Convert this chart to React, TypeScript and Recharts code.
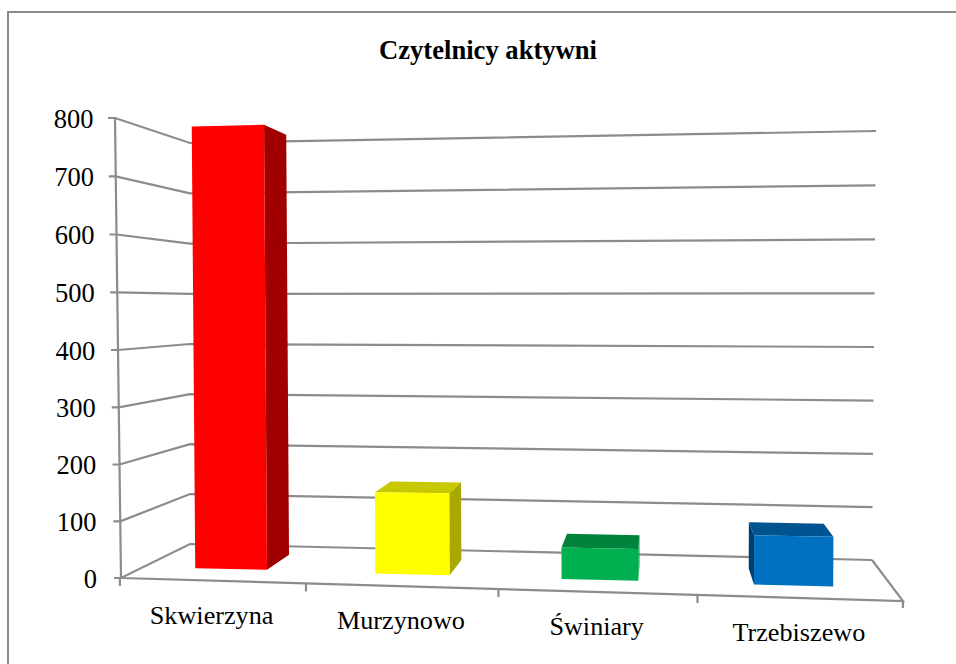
import { BarChart, Bar, XAxis, YAxis } from "recharts";

const categories = ["Skwierzyna", "Murzynowo", "Świniary", "Trzebiszewo"];
const readers = [771, 142, 55, 86];
const valueTicks = [0, 100, 200, 300, 400, 500, 600, 700, 800];

const FRONT_COLORS = ["#ff0000", "#ffff00", "#00b050", "#0070c0"];
const TOP_COLORS = ["#c00000", "#c8c800", "#00843c", "#005490"];
const SIDE_COLORS = ["#a00000", "#a8a800", "#00a048", "#00406e"];
const LINE = "#8c8c8c";
const FONT = '"Liberation Serif", "Times New Roman", serif';

const PLOT_TOP = 118;
const PLOT_BOTTOM = 578;
const PLOT_LEFT = 137.25;
const PLOT_RIGHT = 887.25;
const BAND = (PLOT_RIGHT - PLOT_LEFT) / categories.length;

// vanishing point of the fake 3D view
const VX = 660;
const VY = 303;
const DEPTH = 0.056; // bar front -> bar back
const FRONT = 1.044; // bar plane -> front edge of floor

// band positions get wider to the right
const warpX = (x: number) => x + (x - 231) * (x - 793.5) * 8.8e-5;
const floorY = (fx: number) => PLOT_BOTTOM + (fx - 121) * 0.0294;
const toFloorX = (x: number) => VX + (warpX(x) - VX) * FRONT;
const barBottom = (x: number) => VY + (floorY(VX + (x - VX) * FRONT) - VY) / FRONT;
const toBack = ([x, y]: number[]) => [VX + (x - VX) * (1 - DEPTH), VY + (y - VY) * (1 - DEPTH)];
const pts = (list: number[][]) => list.map((p) => p.join(",")).join(" ");
const bow = (t: number, amount: number) => amount * 4 * t * (1 - t);

function ValueTick({ y, payload }: any) {
  const t = (PLOT_BOTTOM - y) / (PLOT_BOTTOM - PLOT_TOP);
  const nextT = t - 1 / (valueTicks.length - 1);
  const step = (PLOT_BOTTOM - PLOT_TOP) / (valueTicks.length - 1);
  const axisX = 121 - t * 6;
  const wallY = y + bow(t, 2);
  const backLeft = [190, 544 - t * 401 + bow(t, 0.5)];
  const backRight = [872 + t * 4, 560 - t * 429 + bow(t, 1.5)];
  const line = { stroke: LINE, strokeWidth: 2.2, fill: "none" };
  return (
    <g>
      <polyline points={pts([[axisX - 7, wallY], [axisX, wallY], backLeft, backRight])} {...line} />
      {payload.value > 0 && (
        <line x1={axisX} y1={wallY} x2={121 - nextT * 6} y2={y + step + bow(nextT, 2)} {...line} />
      )}
      {payload.value === 0 && (
        <polyline points={pts([[121, PLOT_BOTTOM], [903, floorY(903)], backRight])} {...line} />
      )}
      <text x={axisX - 24 + t * 2.5} y={wallY + 9.5} textAnchor="end" fontFamily={FONT} fontSize={26.5} fill="#000">
        {payload.value}
      </text>
    </g>
  );
}

function CategoryTick({ x, payload, index }: any) {
  const fx = toFloorX(x);
  const edge = toFloorX(x - BAND / 2);
  const lastEdge = toFloorX(x + BAND / 2);
  const isLast = index === categories.length - 1;
  return (
    <g>
      <line x1={edge} y1={floorY(edge)} x2={edge} y2={floorY(edge) + 8} stroke={LINE} strokeWidth={2.2} />
      {isLast && (
        <line x1={lastEdge} y1={floorY(lastEdge)} x2={lastEdge} y2={floorY(lastEdge) + 7} stroke={LINE} strokeWidth={2.2} />
      )}
      <text x={fx - 0.5} y={floorY(fx) + 43} textAnchor="middle" fontFamily={FONT} fontSize={26.2} fill="#000">
        {payload.value}
      </text>
    </g>
  );
}

function Bar3D({ x, y, width, height, index }: any) {
  const left = warpX(x);
  const right = warpX(x + width);
  const mid = (left + right) / 2;
  const bottomY = barBottom(mid);
  const topY = bottomY - height;
  const topSlope = (topY - 350) * 1e-4;
  const bottomSlope = (bottomY - 350) * 1e-4;
  const lean = (px: number) => (px - VX) * height * 1.7e-5;
  const half = (right - left) / 2;

  const tl = [left + lean(left), topY - half * topSlope];
  const tr = [right + lean(right), topY + half * topSlope];
  const bl = [left, bottomY - half * bottomSlope];
  const br = [right, bottomY + half * bottomSlope];

  return (
    <g>
      {topY > VY && <polygon points={pts([tl, tr, toBack(tr), toBack(tl)])} fill={TOP_COLORS[index]} />}
      {right < VX && <polygon points={pts([tr, br, toBack(br), toBack(tr)])} fill={SIDE_COLORS[index]} />}
      {left > VX && <polygon points={pts([tl, bl, toBack(bl), toBack(tl)])} fill={SIDE_COLORS[index]} />}
      <polygon points={pts([tl, tr, br, bl])} fill={FRONT_COLORS[index]} />
    </g>
  );
}

const chartData = categories.map((name, i) => ({ name, readers: readers[i] }));
const layer = { position: "absolute", left: 0, top: 0 } as const;
const plotMargin = { top: PLOT_TOP, right: 956 - PLOT_RIGHT, bottom: 0, left: PLOT_LEFT - 100 };

export default function App() {
  return (
    <div style={{ position: "absolute", left: 0, top: 0, width: 956, height: 664, overflow: "hidden", background: "#fff" }}>
      <div
        style={{
          position: "absolute",
          left: 7,
          top: 11,
          width: 1000,
          height: 700,
          borderLeft: `2px solid ${LINE}`,
          borderTop: `2px solid ${LINE}`,
        }}
      />
      <div
        style={{
          position: "absolute",
          left: 0,
          width: 976,
          top: 35,
          textAlign: "center",
          fontFamily: FONT,
          fontWeight: "bold",
          fontSize: 26.6,
          lineHeight: "31px",
          color: "#000",
        }}
      >
        Czytelnicy aktywni
      </div>
      {/* walls and axes sit in their own chart so the bars cover the gridlines */}
      <div style={layer}>
        <BarChart width={956} height={664} data={chartData} margin={plotMargin}>
          <YAxis
            type="number"
            domain={[0, 800]}
            ticks={valueTicks}
            interval={0}
            width={100}
            axisLine={false}
            tickLine={false}
            tick={(props: any) => <ValueTick {...props} />}
          />
          <XAxis
            dataKey="name"
            interval={0}
            height={664 - PLOT_BOTTOM}
            axisLine={false}
            tickLine={false}
            tick={(props: any) => <CategoryTick {...props} />}
          />
          <Bar dataKey="readers" barSize={75.5} isAnimationActive={false} fill="none" />
        </BarChart>
      </div>
      <div style={layer}>
        <BarChart width={956} height={664} data={chartData} margin={plotMargin}>
          <YAxis type="number" domain={[0, 800]} width={100} axisLine={false} tickLine={false} tick={false} />
          <XAxis dataKey="name" height={664 - PLOT_BOTTOM} axisLine={false} tickLine={false} tick={false} />
          <Bar dataKey="readers" barSize={75.5} isAnimationActive={false} shape={(props: any) => <Bar3D {...props} />} />
        </BarChart>
      </div>
    </div>
  );
}
